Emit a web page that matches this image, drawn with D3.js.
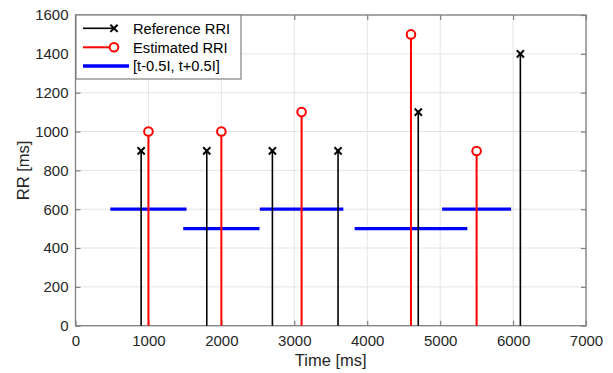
<!DOCTYPE html>
<html><head><meta charset="utf-8">
<script src="https://cdn.jsdelivr.net/npm/d3@7"></script>
<style>body{margin:0;background:#fff}svg{display:block}text{font-family:"Liberation Sans",Arial,Helvetica,sans-serif}</style>
</head><body><svg id="c" width="613" height="373"></svg>
<script>
const refTimes = [900, 1800, 2700, 3600, 4700, 6100];
const refRRI = [900, 900, 900, 900, 1100, 1400];
const estTimes = [1000, 2000, 3100, 4600, 5500];
const estRRI = [1000, 1000, 1100, 1500, 900];
const winStart = [500, 1500, 2550, 3850, 5050];
const winEnd = [1500, 2500, 3650, 5350, 5950];
const winLevel = [600, 500, 600, 500, 600];
const xTicks = [0, 1000, 2000, 3000, 4000, 5000, 6000, 7000];
const yTicks = [0, 200, 400, 600, 800, 1000, 1200, 1400, 1600];
const legendLabels = ["Reference RRI", "Estimated RRI", "[t-0.5I, t+0.5I]"];

const L = 75.5, R = 586, T = 15, B = 325.7;
const svg = d3.select("#c");
const x = d3.scaleLinear().domain([0, 7000]).range([L, R]);
const y = d3.scaleLinear().domain([0, 1600]).range([B, T]);
const fs = 15, fsLab = 16.5, fsLeg = 14.7;

// grid
const g = svg.append("g");
g.selectAll(".gx").data(xTicks).join("line").attr("x1", d => x(d)).attr("x2", d => x(d))
  .attr("y1", T).attr("y2", B).attr("stroke", "#e3e3e3").attr("stroke-width", 1);
g.selectAll(".gy").data(yTicks).join("line").attr("y1", d => y(d)).attr("y2", d => y(d))
  .attr("x1", L).attr("x2", R).attr("stroke", "#e3e3e3").attr("stroke-width", 1);

// axes
const axCol = "#808080", txtCol = "#262626";
const xa = svg.append("g").attr("transform", `translate(0,${B})`)
  .call(d3.axisBottom(x).tickValues(xTicks).tickSize(-5).tickPadding(9.5).tickFormat(d3.format("d")));
const xt = svg.append("g").attr("transform", `translate(0,${T})`)
  .call(d3.axisTop(x).tickValues(xTicks).tickSize(-5).tickFormat(""));
const ya = svg.append("g").attr("transform", `translate(${L},0)`)
  .call(d3.axisLeft(y).tickValues(yTicks).tickSize(-5).tickPadding(7).tickFormat(d3.format("d")));
const yr = svg.append("g").attr("transform", `translate(${R},0)`)
  .call(d3.axisRight(y).tickValues(yTicks).tickSize(-5).tickFormat(""));
[xa, xt, ya, yr].forEach(a => {
  a.select(".domain").remove();
  a.selectAll(".tick line").attr("stroke", axCol).attr("stroke-width", 1.2);
  a.selectAll("text").attr("fill", txtCol).style("font-size", fs + "px")
   .style("font-family", '"Liberation Sans",Arial,sans-serif');
});
svg.append("rect").attr("x", L).attr("y", T).attr("width", R - L).attr("height", B - T)
  .attr("fill", "none").attr("stroke", axCol).attr("stroke-width", 1.3);

// windows
svg.selectAll(".win").data(winStart).join("line")
  .attr("x1", d => x(d)).attr("x2", (d, i) => x(winEnd[i]))
  .attr("y1", (d, i) => y(winLevel[i])).attr("y2", (d, i) => y(winLevel[i]))
  .attr("stroke", "#0000ff").attr("stroke-width", 3.3).attr("stroke-linecap", "square");

// reference stems
svg.selectAll(".rs").data(refTimes).join("line")
  .attr("x1", d => x(d)).attr("x2", d => x(d)).attr("y1", y(0)).attr("y2", (d, i) => y(refRRI[i]))
  .attr("stroke", "#000").attr("stroke-width", 1.6);
const xm = (sel, s) => sel.append("path").attr("d", `M${-s},${-s}L${s},${s}M${-s},${s}L${s},${-s}`)
  .attr("stroke", "#000").attr("stroke-width", 2).attr("fill", "none");
refTimes.forEach((d, i) => {
  xm(svg.append("g").attr("transform", `translate(${x(d)},${y(refRRI[i])})`), 3.6);
});

// estimated stems
svg.selectAll(".es").data(estTimes).join("line")
  .attr("x1", d => x(d)).attr("x2", d => x(d)).attr("y1", y(0)).attr("y2", (d, i) => y(estRRI[i]))
  .attr("stroke", "#ff0000").attr("stroke-width", 2);
svg.selectAll(".ec").data(estTimes).join("circle")
  .attr("cx", d => x(d)).attr("cy", (d, i) => y(estRRI[i])).attr("r", 4.3)
  .attr("fill", "#fff").attr("stroke", "#ff0000").attr("stroke-width", 2);

// legend
const lg = svg.append("g");
lg.append("rect").attr("x", 76).attr("y", 15).attr("width", 165).attr("height", 64)
  .attr("fill", "#fff").attr("stroke", axCol).attr("stroke-width", 1.2);
const rows = [28.3, 47.3, 66];
lg.append("line").attr("x1", 83).attr("x2", 114).attr("y1", rows[0]).attr("y2", rows[0]).attr("stroke", "#000").attr("stroke-width", 1.6);
xm(lg.append("g").attr("transform", `translate(114,${rows[0]})`), 3.6);
lg.append("line").attr("x1", 83).attr("x2", 114).attr("y1", rows[1]).attr("y2", rows[1]).attr("stroke", "#ff0000").attr("stroke-width", 2);
lg.append("circle").attr("cx", 114).attr("cy", rows[1]).attr("r", 4.3).attr("fill", "#fff").attr("stroke", "#ff0000").attr("stroke-width", 2);
lg.append("line").attr("x1", 83).attr("x2", 129).attr("y1", rows[2]).attr("y2", rows[2]).attr("stroke", "#0000ff").attr("stroke-width", 3.3);
lg.selectAll("text").data(legendLabels).join("text")
  .attr("x", 133).attr("y", (d, i) => rows[i]).attr("dy", "0.36em")
  .style("font-size", fsLeg + "px").attr("fill", "#000").text(d => d);

// axis labels
svg.append("text").attr("x", (L + R) / 2).attr("y", 365.5).attr("text-anchor", "middle")
  .style("font-size", fsLab + "px").attr("fill", txtCol).text("Time [ms]");
svg.append("text").attr("transform", `translate(28.5,${(T + B) / 2}) rotate(-90)`).attr("text-anchor", "middle")
  .style("font-size", fsLab + "px").attr("fill", txtCol).text("RR [ms]");
</script></body></html>
